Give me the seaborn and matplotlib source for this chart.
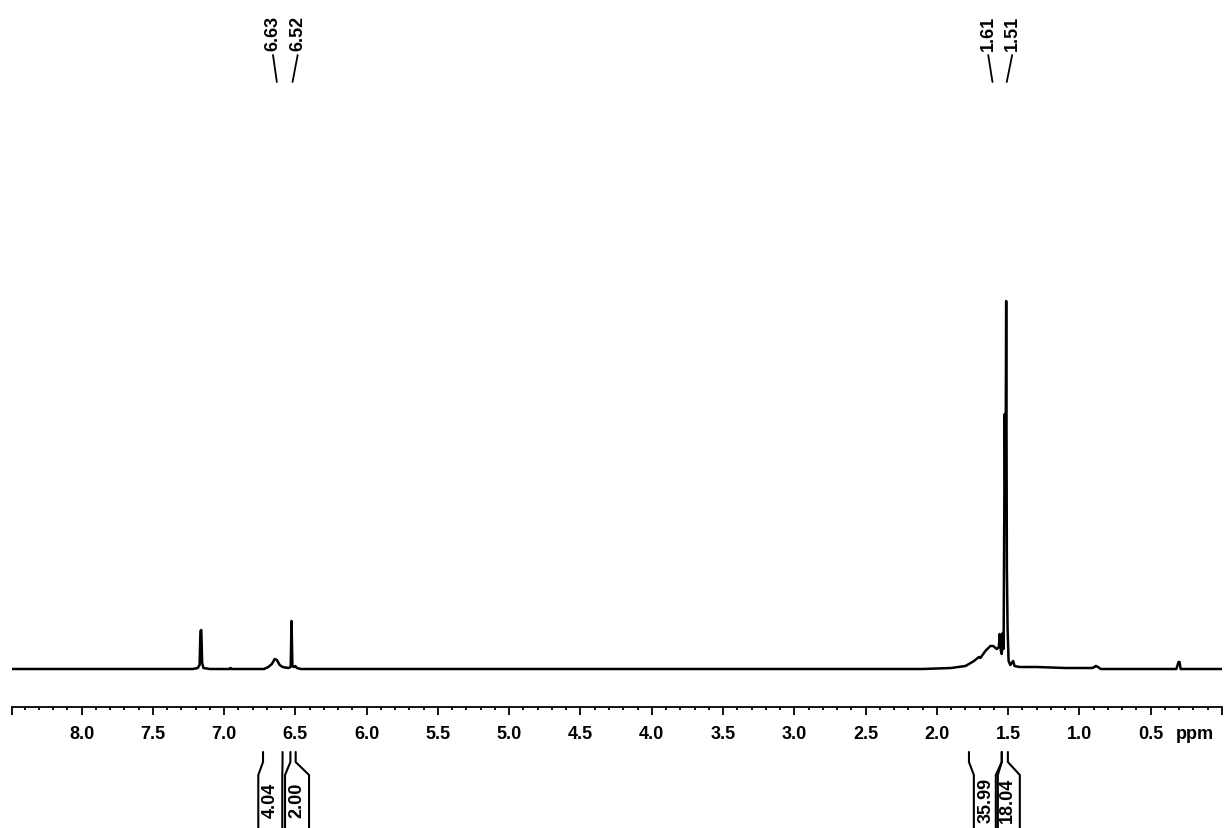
import numpy as np
import matplotlib.pyplot as plt
import matplotlib.transforms as mtransforms
import seaborn as sns

# spectrum trace (ppm, height above baseline)
shift_ppm = [8.49, 7.22, 7.185, 7.172, 7.166, 7.160, 7.154, 7.145, 7.10, 6.96, 6.955, 6.95,
             6.72, 6.69, 6.665, 6.645, 6.63, 6.61, 6.59, 6.55, 6.533, 6.527, 6.521, 6.51,
             6.50, 6.49, 6.46, 2.10, 1.90, 1.80, 1.775, 1.74, 1.705, 1.695, 1.66, 1.625,
             1.605, 1.58, 1.565, 1.560, 1.552, 1.545, 1.538, 1.532, 1.524, 1.519, 1.514,
             1.509, 1.504, 1.497, 1.485, 1.465, 1.455, 1.42, 1.30, 1.10, 0.95, 0.91,
             0.895, 0.885, 0.87, 0.85, 0.32, 0.305, 0.298, 0.29, 0.0]
intensity = [0, 0, 1, 4, 38, 39, 6, 1, 0, 0, 1, 0,
             0, 2, 5, 10, 9, 4, 2, 1, 2, 48, 3, 2,
             3, 1, 0, 0, 1, 3, 5, 8, 12, 11, 18, 23,
             23, 20, 22, 35, 19, 15, 36, 20, 255, 150, 368,
             100, 40, 8, 4, 8, 3, 2, 2, 1, 1, 1,
             2, 3, 2, 0, 0, 7, 7, 0, 0]

# peak picking labels
peak_labels = ['6.63', '6.52', '1.61', '1.51']
peak_ppm = [6.63, 6.52, 1.61, 1.51]
peak_label_ppm = [6.657, 6.484, 1.640, 1.472]

# integrals
int_values = ['4.04', '2.00', '35.99', '18.04']
int_start = [6.727, 6.535, 1.775, 1.545]
int_end = [6.590, 6.498, 1.545, 1.502]
int_shift_px = [-2.5, 4.0, 0.5, 3.0]

tick_labels = ['8.0', '7.5', '7.0', '6.5', '6.0', '5.5', '5.0', '4.5',
               '4.0', '3.5', '3.0', '2.5', '2.0', '1.5', '1.0', '0.5']
x_left, x_right = 8.49, 0.0

sns.set_theme(style='white')
plt.rcParams['font.family'] = ['Liberation Sans', 'DejaVu Sans']
plt.rcParams['font.weight'] = 'bold'
plt.rcParams['text.color'] = 'black'
plt.rcParams['xtick.color'] = 'black'
plt.rcParams['xtick.labelcolor'] = 'black'

W, H = 1226, 829
fig = plt.figure(figsize=(W / 100, H / 100), dpi=100)
ax_l, ax_r, ax_b, ax_t = 11.7, 1222, 708.3, 90
ax = fig.add_axes([ax_l / W, 1 - ax_b / H, (ax_r - ax_l) / W, (ax_b - ax_t) / H])

sns.lineplot(x=shift_ppm, y=intensity, ax=ax, color='black', lw=1.8,
             sort=False, estimator=None)

base_px = ax_b - 670
ax.set_xlim(x_left, x_right)
ax.set_ylim(-base_px, (ax_b - ax_t) - base_px)
ax.set_yticks([])
for s in ['left', 'right', 'top']:
    ax.spines[s].set_visible(False)
ax.spines['bottom'].set_color('black')
ax.spines['bottom'].set_linewidth(1.3)

ticks = [x_left] + [float(t) for t in tick_labels] + [x_right]
ax.set_xticks(ticks, [''] + tick_labels + [''])
ax.set_xticks(np.arange(0.1, 8.45, 0.1), minor=True)
ax.tick_params(axis='x', which='major', direction='out', length=6, width=1.3,
               color='black', pad=7, labelsize=13, labelcolor='black', bottom=True)
ax.tick_params(axis='x', which='minor', direction='out', length=2.5, width=1.3,
               color='black', bottom=True)
for lab in ax.get_xticklabels():
    lab.set_fontweight('bold')

# ppm unit label
tr = mtransforms.blended_transform_factory(ax.transData, fig.transFigure)
def fy(py):
    return 1 - py / H
ax.text(0.19, fy(726), 'ppm', transform=tr, ha='center', va='top',
        fontsize=13, fontweight='bold', color='black', clip_on=False)

px_per_ppm = (ax_r - ax_l) / (x_left - x_right)

# peak labels on top
for lab, p, lp in zip(peak_labels, peak_ppm, peak_label_ppm):
    ax.text(lp, fy(51), lab, transform=tr, rotation=90, ha='center', va='bottom',
            fontsize=13, fontweight='bold', color='black', clip_on=False)
    ax.plot([lp, p], [fy(56), fy(83)], transform=tr, color='black', lw=1.3,
            clip_on=False)

# integral brackets below axis
half_box = 12 / px_per_ppm
for val, a, b, sh in zip(int_values, int_start, int_end, int_shift_px):
    c = (a + b) / 2 - sh / px_per_ppm
    bl, br = c + half_box, c - half_box
    for stem, edge in [(a, bl), (b, br)]:
        ax.plot([stem, stem, edge, edge], [fy(753), fy(763), fy(776), fy(835)],
                transform=tr, color='black', lw=1.5, clip_on=False,
                solid_joinstyle='miter')
    ax.text(c, fy(800), val, transform=tr, rotation=90, ha='center', va='center',
            fontsize=13, fontweight='bold', color='black', clip_on=False)

fig.savefig('out.png', dpi=100)
